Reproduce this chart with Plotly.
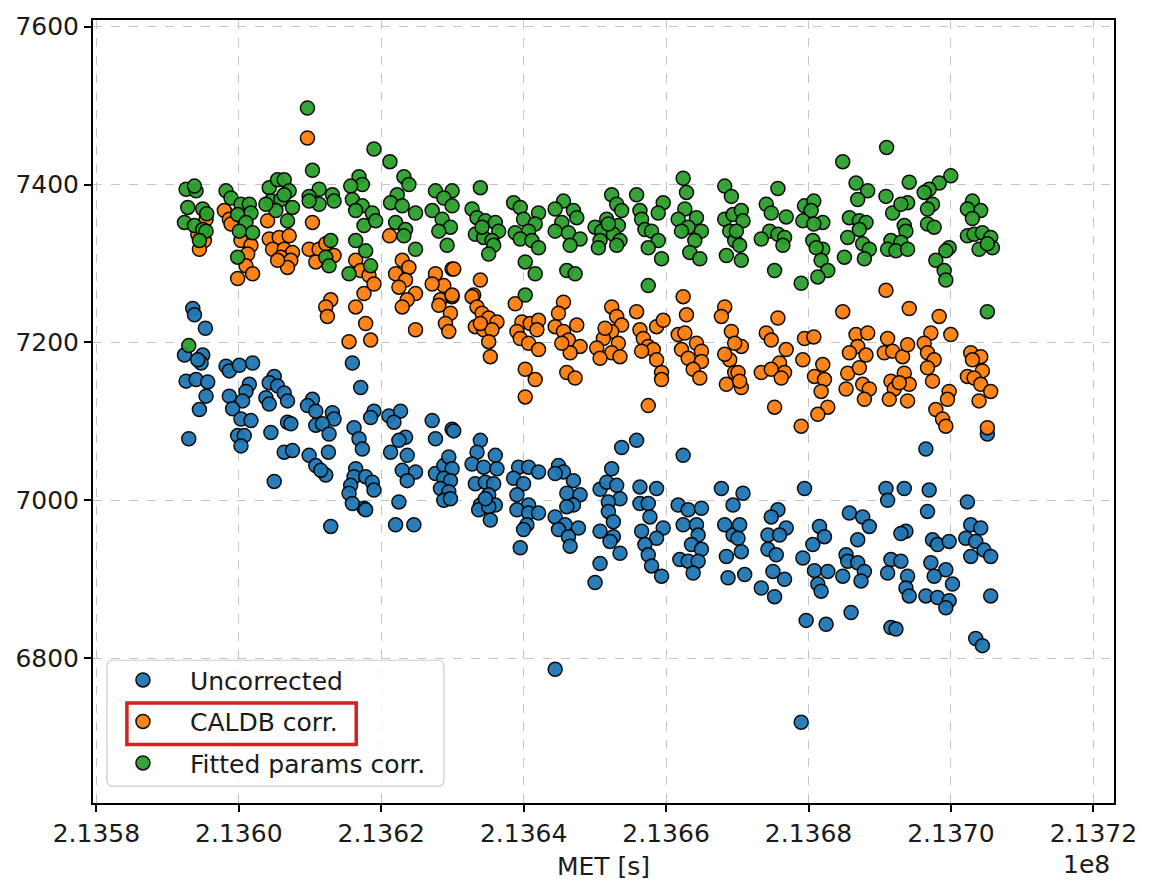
import plotly.graph_objects as go

# Mission elapsed time [s] and measured line position for each correction stage
unc_met = [
    213593534, 213593768, 213595308, 213592367, 213594935, 213594702, 213594235, 213592601, 213594001, 213595635, 213595402, 213594468, 213592974,
    213598203, 213598670, 213600071, 213601939, 213601472, 213601005, 213598670, 213600538, 213599136, 213600304, 213601705, 213599837, 213600771, 213600304,
    213604973, 213604273, 213605440, 213606374, 213606841, 213603806, 213604273, 213606841, 213607308, 213604506, 213606374, 213607541, 213604973,
    213610343, 213609642, 213610809, 213613144, 213613378, 213610809, 213611744, 213612677, 213612584, 213609876, 213610809, 213612210, 213611510, 213612911,
    213615946, 213617113, 213618980, 213618513, 213616179, 213616879, 213617346, 213616412, 213616179, 213617813, 213618747, 213615712, 213618980, 213615479, 213617580, 213615946, 213617813,
    213621081, 213622716, 213621782, 213623416, 213622482, 213621315, 213623650, 213622949, 213624817, 213623650, 213622482, 213622015, 213624583,
    213627151, 213627618, 213629953, 213627618, 213628785, 213629486, 213629953, 213628785, 213629719, 213628318, 213629486, 213628785, 213630183,
    213633919, 213633452, 213636020, 213632751, 213634385, 213636253, 213633218, 213634619, 213635786, 213635086, 213633919, 213636020, 213629716, 213633685, 213635086, 213635319, 213634619,
    213639288, 213640689, 213642089, 213638588, 213639988, 213639054, 213640689, 213639054, 213640689, 213642089, 213640455, 213639988, 213639521,
    213644891, 213645591, 213646992, 213644424, 213646058, 213647926, 213646992, 213646058, 213644424, 213645824, 213647692, 213644891, 213646291, 213646525, 213644424,
    213653762, 213652361, 213650727, 213651661, 213653061, 213653528, 213651895, 213651895, 213652595, 213650727, 213652595, 213652128, 213653528, 213650727, 213650027,
    213655863, 213656330, 213658665, 213656330, 213657497, 213657731, 213656563, 213659598, 213658665, 213657030, 213657497, 213657964, 213659365,
    213662399, 213661699, 213663100, 213664967, 213662399, 213664267, 213664501, 213663567, 213664967, 213661932, 213663100, 213664501, 213663800,
    213667768, 213669403, 213668236, 213669403, 213668469, 213668702, 213670801, 213670334, 213670101, 213670568, 213671035,
    213675703, 213674770, 213676871, 213674303, 213675937, 213674303, 213675470, 213675003, 213676637, 213673369, 213675237,
    213679439, 213681540, 213682240, 213680606, 213679205, 213680840, 213682707, 213681306, 213681773, 213679672, 213682474, 213678972,
    213685742, 213687609, 213688543, 213686909, 213685275, 213685509, 213686909, 213687843, 213684808, 213687375, 213685975,
    213690878, 213693446, 213691111, 213693680, 213692979, 213691578, 213692979, 213691111, 213693913, 213693680, 213694146, 213691578, 213692278,
    213696481, 213696947, 213696714, 213697414, 213698115, 213699749, 213697181, 213699282, 213697648, 213700215, 213696481, 213698115, 213699749, 213699282,
    213705118, 213702316, 213702784, 213704184, 213702083, 213703484, 213704651, 213705585, 213702784, 213705585, 213703484, 213704417,
]
unc_rate = [
    7243, 7235, 7218, 7184, 7184, 7174, 7178, 7151, 7153, 7150, 7132, 7115, 7078,
    7170, 7164, 7171, 7174, 7147, 7138, 7132, 7126, 7116, 7103, 7101, 7082, 7082, 7069,
    7157, 7149, 7145, 7136, 7126, 7130, 7122, 7099, 7097, 7086, 7061, 7063, 7024,
    7128, 7120, 7113, 7111, 7103, 7095, 7097, 7084, 7061, 7057, 7044, 7032, 7038, 6967,
    7174, 7143, 7113, 7105, 7092, 7078, 7065, 7040, 7030, 7030, 7023, 7019, 7013, 7009, 6990, 6996, 6988,
    7107, 7113, 7099, 7080, 7076, 7061, 7057, 7038, 7036, 7025, 6998, 6969, 6969,
    7101, 7078, 7090, 7034, 7044, 7055, 7040, 7028, 7025, 7015, 7011, 7000, 7088,
    7076, 7061, 7057, 7046, 7042, 7040, 7021, 7023, 7021, 7007, 6994, 6994, 7002, 6988, 6992, 6975, 7002,
    7042, 7042, 7036, 7028, 7021, 7007, 6994, 6988, 6984, 6984, 6969, 6963, 6940,
    7044, 7036, 7025, 7034, 7009, 7007, 6994, 6992, 6979, 6969, 6965, 6963, 6954, 6942, 6786,
    7067, 7040, 7014, 7023, 7019, 7002, 6998, 6986, 6973, 6961, 6954, 6948, 6933, 6920, 6896,
    7076, 7017, 7015, 6996, 6996, 6979, 6961, 6965, 6952, 6944, 6931, 6917, 6904,
    7057, 6994, 6988, 6990, 6969, 6969, 6956, 6944, 6938, 6925, 6923, 6923, 6908,
    7015, 6994, 6969, 6956, 6929, 6902, 7009, 6969, 6952, 6935, 6906,
    6988, 6979, 6965, 6956, 6956, 6938, 6931, 6910, 6900, 6889, 6878,
    7015, 6967, 6954, 6944, 6927, 6911, 6910, 6894, 6885, 6848, 6843, 6719,
    6984, 6979, 6967, 6950, 6931, 6923, 6921, 6910, 6904, 6898, 6858,
    7015, 7015, 7000, 6961, 6958, 6925, 6923, 6908, 6904, 6889, 6879, 6839, 6837,
    7065, 7013, 6986, 6950, 6944, 6948, 6921, 6912, 6904, 6894, 6879, 6877, 6873, 6864,
    7084, 6998, 6969, 6965, 6952, 6948, 6937, 6929, 6929, 6879, 6825, 6816,
]

caldb_met = [
    213609642, 213595402, 213595168, 213594468, 213594235,
    213597970, 213598670, 213598904, 213600304, 213601705, 213601238, 213601005, 213601939, 213599837,
    213604040, 213604273, 213605674, 213607074, 213604740, 213606374, 213607541, 213605907, 213607308, 213606841, 213605440,
    213610343, 213609876, 213611277, 213610810, 213613378, 213612210, 213612911, 213612210, 213612443,
    213616412, 213617113, 213618280, 213617580, 213618980, 213616412, 213617813, 213615479, 213618513,
    213621174, 213622949, 213623883, 213622015, 213623416, 213622482, 213624817, 213623650, 213622949, 213624817,
    213627618, 213628785, 213629953, 213627151, 213628318, 213629953, 213629719, 213629019, 213629486, 213628085,
    213630183, 213633919, 213629950, 213632985,
    213632751, 213633452, 213634152, 213635086, 213636253, 213633218, 213634385, 213635553, 213635086, 213635319, 213633919,
    213638821, 213639755, 213640922, 213642089, 213639054, 213641856, 213639521, 213640689, 213642089, 213640222, 213641622, 213640222,
    213645591, 213644891, 213644424, 213645591, 213647458, 213646291, 213647926, 213646525, 213646058, 213647225, 213645357,
    213652361, 213653061, 213653762, 213652361, 213651194, 213653295, 213650261, 213652361, 213653528, 213650727, 213651428,
    213655863, 213656330, 213656797, 213658665, 213659598, 213657497, 213658198, 213658665, 213659365, 213659365, 213657497, 213656563,
    213662399, 213662866, 213661699, 213662633, 213664267, 213662166, 213664967, 213663100, 213664967, 213663800, 213664734,
    213668236, 213667768, 213669170, 213668936, 213668469, 213669636, 213668236, 213670568, 213670101, 213670568, 213670334, 213669634,
    213675703, 213674069, 213674770, 213676871, 213675937, 213673369, 213676637, 213674770, 213676171, 213675237,
    213679439, 213680746, 213679205, 213682007, 213680840, 213682240, 213681773, 213682707, 213681306, 213678972,
    213684808, 213686675, 213688310, 213686909, 213685742, 213688076, 213685509, 213687142, 213687609, 213688543, 213685275, 213687843,
    213690878, 213694146, 213691111, 213690644, 213691812, 213693213, 213693913, 213693446, 213694146, 213691578, 213692045, 213691344, 213693913, 213692745,
    213698348, 213699982, 213697181, 213696247, 213696714, 213697648, 213696714, 213697414, 213699749, 213699516, 213697881, 213698815, 213699282,
    213702784, 213704184, 213704417, 213702316, 213703250, 213704184, 213705585, 213703951, 213705118, 213703017,
]
caldb_rate = [
    7459, 7356, 7329, 7318, 7337,
    7367, 7356, 7350, 7329, 7323, 7312, 7297, 7287, 7281,
    7354, 7331, 7333, 7335, 7318, 7318, 7314, 7308, 7304, 7295, 7304,
    7352, 7318, 7318, 7302, 7310, 7325, 7254, 7245, 7233,
    7304, 7291, 7285, 7262, 7274, 7245, 7224, 7201, 7203,
    7335, 7304, 7295, 7287, 7279, 7270, 7262, 7254, 7245, 7216,
    7287, 7272, 7293, 7274, 7254, 7258, 7237, 7224, 7214, 7247,
    7293, 7279, 7260, 7260,
    7258, 7245, 7237, 7231, 7226, 7220, 7216, 7216, 7201, 7182, 7224,
    7249, 7226, 7224, 7228, 7214, 7216, 7205, 7199, 7191, 7166, 7153, 7131,
    7251, 7237, 7220, 7214, 7222, 7203, 7195, 7187, 7162, 7155, 7199,
    7245, 7233, 7222, 7214, 7205, 7199, 7193, 7187, 7182, 7180, 7218,
    7239, 7216, 7205, 7220, 7228, 7195, 7191, 7178, 7162, 7153, 7120, 7189,
    7258, 7235, 7210, 7212, 7199, 7191, 7189, 7180, 7176, 7166, 7155,
    7245, 7233, 7214, 7178, 7147, 7162, 7185, 7195, 7162, 7143, 7151, 7199,
    7231, 7212, 7203, 7191, 7174, 7162, 7162, 7166, 7155, 7118,
    7205, 7207, 7178, 7172, 7157, 7153, 7138, 7118, 7109, 7094,
    7239, 7210, 7212, 7195, 7187, 7184, 7161, 7168, 7147, 7141, 7141, 7128,
    7266, 7243, 7205, 7187, 7189, 7182, 7197, 7161, 7147, 7151, 7141, 7128, 7126, 7149,
    7233, 7210, 7212, 7199, 7187, 7178, 7168, 7151, 7138, 7128, 7115, 7103, 7094,
    7187, 7182, 7164, 7157, 7155, 7147, 7138, 7126, 7092, 7178,
]

fit_met = [
    213592601, 213594001, 213593768, 213592834, 213594935, 213595495, 213592367, 213593768, 213594935, 213595402, 213594468, 213592974,
    213598203, 213598904, 213600304, 213601472, 213601705, 213599837, 213601005, 213600071, 213601939, 213599837,
    213604273, 213605440, 213606374, 213607074, 213604506, 213605907, 213607541, 213605207, 213606841, 213603806, 213606374,
    213609642, 213610343, 213611277, 213609876, 213613144, 213613378, 213611277, 213609876, 213612911, 213612210, 213612677,
    213616879, 213617346, 213615712, 213615946, 213617346, 213618747, 213616412, 213617580, 213619214, 213616412, 213617813, 213618513, 213615479,
    213618980, 213621221, 213623182, 213623883, 213622249, 213621315, 213622949, 213624817, 213622015, 213623416, 213623182, 213624817,
    213627618, 213629953, 213628785, 213629953, 213627151, 213628552, 213629719, 213628085, 213629252,
    213633919, 213632751, 213633452, 213634619, 213636020, 213636486, 213633218, 213634385, 213635553, 213635786, 213635086, 213634152,
    213638588, 213639521, 213642089, 213639988, 213641622, 213638821, 213640689, 213639521, 213641156, 213642089, 213640222, 213641622, 213640222,
    213645591, 213644424, 213646992, 213647458, 213645357, 213644424, 213646291, 213647926, 213646525, 213646058, 213647225,
    213652361, 213653061, 213653762, 213651661, 213650027, 213653295, 213650961, 213652595, 213653528, 213650727, 213650494, 213653061, 213651895,
    213655863, 213656330, 213656563, 213659598, 213658898, 213657030, 213657964, 213658898, 213657497, 213659365, 213657497,
    213662399, 213662866, 213662633, 213661699, 213664267, 213663100, 213664967, 213664034, 213663333, 213664734, 213662166,
    213668236, 213669170, 213668236, 213669403, 213668936, 213668469, 213669636, 213670568, 213670801, 213669867, 213670334, 213670568,
    213675703, 213674069, 213674770, 213676871, 213674536, 213673369, 213675703, 213676637, 213676404, 213675237,
    213679439, 213680746, 213680373, 213679205, 213682007, 213680746, 213680606, 213682007, 213681073, 213681773, 213682707, 213681306, 213678972,
    213684808, 213686675, 213688310, 213686909, 213685742, 213687142, 213688076, 213685509, 213687142, 213687609, 213688543, 213685041, 213687843,
    213690971, 213694146, 213690878, 213691812, 213693913, 213692979, 213693446, 213693680, 213691578, 213692979, 213691111, 213692278, 213693913,
    213699982, 213698348, 213696947, 213696247, 213697414, 213696714, 213696714, 213697648, 213699749, 213699282, 213697881, 213699049, 213699282,
    213703017, 213704184, 213702316, 213703017, 213702316, 213703250, 213704417, 213705585, 213703951, 213705818, 213705118, 213705118,
]
fit_rate = [
    7394, 7392, 7398, 7371, 7369, 7363, 7352, 7348, 7343, 7341, 7329, 7196,
    7392, 7383, 7375, 7375, 7364, 7362, 7352, 7341, 7339, 7308,
    7396, 7406, 7406, 7392, 7379, 7381, 7371, 7367, 7354, 7375, 7387,
    7497, 7418, 7394, 7385, 7387, 7379, 7375, 7379, 7329, 7308, 7297,
    7410, 7400, 7398, 7381, 7373, 7364, 7367, 7348, 7354, 7329, 7316, 7297, 7287,
    7445, 7429, 7410, 7400, 7387, 7377, 7373, 7364, 7352, 7343, 7335, 7318,
    7392, 7392, 7383, 7373, 7367, 7356, 7346, 7341, 7323,
    7396, 7369, 7358, 7354, 7352, 7341, 7337, 7333, 7329, 7323, 7312, 7346,
    7377, 7371, 7364, 7356, 7350, 7339, 7341, 7331, 7329, 7320, 7302, 7287, 7260,
    7379, 7369, 7367, 7358, 7352, 7341, 7339, 7331, 7323, 7291, 7287,
    7387, 7375, 7367, 7356, 7346, 7348, 7341, 7337, 7329, 7329, 7320, 7323, 7350,
    7387, 7367, 7356, 7377, 7364, 7343, 7341, 7329, 7320, 7306, 7272,
    7408, 7390, 7369, 7356, 7358, 7346, 7341, 7329, 7314, 7306, 7341,
    7398, 7385, 7356, 7362, 7341, 7310, 7329, 7367, 7354, 7341, 7323, 7304,
    7395, 7375, 7364, 7359, 7341, 7331, 7337, 7333, 7323, 7291,
    7373, 7379, 7367, 7354, 7352, 7350, 7329, 7318, 7320, 7304, 7291, 7283, 7275,
    7429, 7402, 7392, 7381, 7358, 7354, 7352, 7333, 7343, 7325, 7318, 7308, 7306,
    7447, 7403, 7385, 7364, 7377, 7375, 7348, 7341, 7329, 7327, 7318, 7316, 7318,
    7411, 7402, 7394, 7390, 7375, 7369, 7350, 7346, 7320, 7316, 7304, 7291, 7279,
    7379, 7367, 7369, 7357, 7335, 7337, 7339, 7333, 7318, 7320, 7325, 7239,
]

series = [
    ("Uncorrected", unc_met, unc_rate, "#1f77b4"),
    ("CALDB corr.", caldb_met, caldb_rate, "#ff7f0e"),
    ("Fitted params corr.", fit_met, fit_rate, "#2ca02c"),
]

x_tickvals = [213580000, 213600000, 213620000, 213640000, 213660000, 213680000, 213700000, 213720000]
x_ticktext = ["2.1358", "2.1360", "2.1362", "2.1364", "2.1366", "2.1368", "2.1370", "2.1372"]
y_tickvals = [6800, 7000, 7200, 7400, 7600]

FONT = "DejaVu Sans"
TEXT = "#1a1a1a"
FS = 25

fig = go.Figure()
for name, xs, ys, color in series:
    fig.add_trace(go.Scatter(
        x=xs, y=ys, mode="markers", name=name, legendgroup=name,
        marker=dict(size=14, color=color, opacity=0.95,
                    line=dict(color="black", width=1.5)),
    ))

axis_common = dict(
    showline=True, linecolor="black", linewidth=2, mirror=True,
    ticks="outside", ticklen=7, tickwidth=2, tickcolor="black",
    showgrid=True, gridcolor="#c4c4c4", gridwidth=1, griddash="dash",
    zeroline=False, tickfont=dict(family=FONT, size=FS, color=TEXT),
)


def rounded_box(x0, y0, x1, y1, rx, ry):
    """SVG path for a rectangle with rounded corners (paper coordinates)."""
    return (f"M{x0 + rx},{y0} L{x1 - rx},{y0} Q{x1},{y0} {x1},{y0 + ry} "
            f"L{x1},{y1 - ry} Q{x1},{y1} {x1 - rx},{y1} L{x0 + rx},{y1} "
            f"Q{x0},{y1} {x0},{y1 - ry} L{x0},{y0 + ry} Q{x0},{y0} {x0 + rx},{y0} Z")


fig.update_layout(
    width=1149, height=881, autosize=False,
    margin=dict(l=93, r=32, t=13, b=78),
    paper_bgcolor="white", plot_bgcolor="white",
    font=dict(family=FONT, size=FS, color=TEXT),
    xaxis=dict(range=[213579524, 213722899], tickvals=x_tickvals,
               ticktext=x_ticktext, **axis_common),
    yaxis=dict(range=[6616.7, 7608.4], tickvals=y_tickvals, **axis_common),
    legend=dict(x=0.0029, y=0.0215, xanchor="left", yanchor="bottom",
                bgcolor="rgba(0,0,0,0)", borderwidth=0,
                font=dict(family=FONT, size=FS, color=TEXT),
                tracegroupgap=6, itemsizing="trace", itemwidth=84),
    annotations=[
        dict(text="MET [s]", xref="paper", yref="paper", x=0.5, y=-0.081,
             xanchor="center", yanchor="middle", showarrow=False,
             font=dict(family=FONT, size=FS, color=TEXT)),
        dict(text="1e8", xref="paper", yref="paper", x=0.998, y=-0.079,
             xanchor="right", yanchor="middle", showarrow=False,
             font=dict(family=FONT, size=FS, color=TEXT)),
    ],
    shapes=[
        # legend frame
        dict(type="path", xref="paper", yref="paper",
             path=rounded_box(0.01367, 0.02152, 0.34375, 0.18228, 0.0059, 0.0076),
             line=dict(color="#cccccc", width=1.2),
             fillcolor="rgba(255,255,255,0.85)"),
        # highlight around the CALDB entry
        dict(type="rect", xref="paper", yref="paper",
             x0=0.0332, x1=0.2578, y0=0.0747, y1=0.1278,
             line=dict(color="#d42020", width=3.5), fillcolor="rgba(0,0,0,0)"),
    ],
)

fig.write_html("out.html")
